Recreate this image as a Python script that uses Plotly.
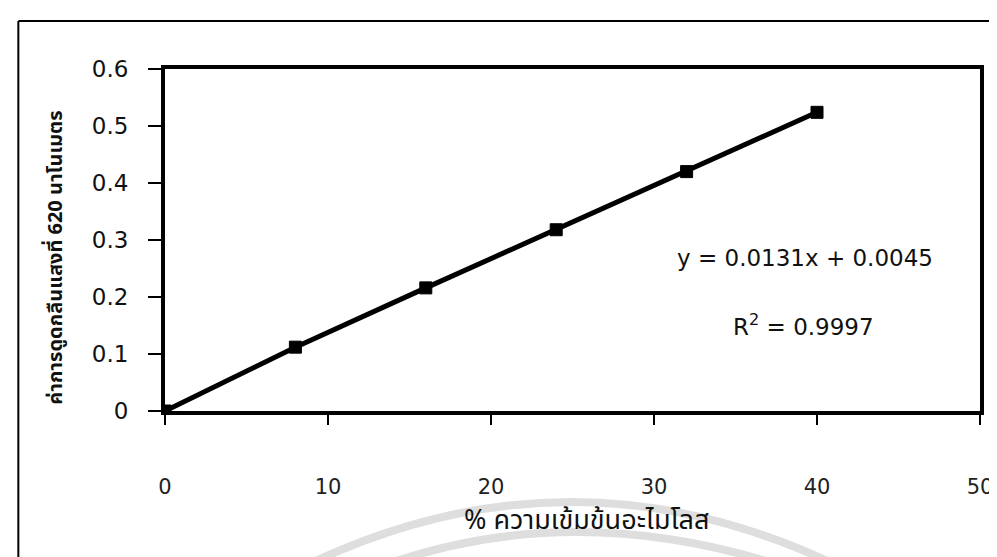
import plotly.graph_objects as go

# ---- data ----
conc = [0, 8, 16, 24, 32, 40]
absorbance = [0.0, 0.112, 0.216, 0.318, 0.420, 0.524]
x_ticks = [0, 10, 20, 30, 40, 50]
y_ticks = [0, 0.1, 0.2, 0.3, 0.4, 0.5, 0.6]
y_tick_text = ["0", "0.1", "0.2", "0.3", "0.4", "0.5", "0.6"]
x_title = "% ความเข้มข้นอะไมโลส"
y_title = "ค่าการดูดกลืนแสงที่ 620 นาโนเมตร"
eq_text = "y = 0.0131x + 0.0045"
r2_text = "R<sup>2</sup> = 0.9997"

W, H = 997, 557
L, R, T, B = 157, 12, 61, 154
PW, PH = W - L - R, H - T - B


def px(xp):
    return (xp - L) / PW


def py(yp):
    return (H - B - yp) / PH


NUM_FONT = "DejaVu Sans"
THAI_FONT = "Noto Sans Thai, Noto Sans, DejaVu Sans, sans-serif"

fig = go.Figure()
fig.add_trace(go.Scatter(
    x=conc, y=absorbance, mode="lines+markers",
    line=dict(color="black", width=5),
    marker=dict(symbol="square", size=12, color="black",
                line=dict(color="black", width=1)),
    showlegend=False, hoverinfo="x+y",
))

fig.update_layout(
    width=W, height=H,
    margin=dict(l=L, r=R, t=T, b=B, pad=0),
    paper_bgcolor="white", plot_bgcolor="white",
    showlegend=False,
    xaxis=dict(
        range=[0, 50], tickvals=x_ticks, ticktext=[str(v) for v in x_ticks],
        showgrid=False, zeroline=False,
        showline=True, linecolor="black", linewidth=4, mirror=True,
        ticks="outside", ticklen=10, tickwidth=1.5, tickcolor="black",
        tickfont=dict(family=NUM_FONT, size=21, color="#222"),
        ticklabelstandoff=44,
    ),
    yaxis=dict(
        range=[0, 0.6], tickvals=y_ticks, ticktext=y_tick_text,
        showgrid=False, zeroline=False,
        showline=True, linecolor="black", linewidth=4, mirror=True,
        ticks="outside", ticklen=13, tickwidth=1.5, tickcolor="black",
        tickfont=dict(family=NUM_FONT, size=23, color="#111"),
        ticklabelstandoff=15,
    ),
)

annotations = [
    dict(text=eq_text, x=px(807), y=py(250), xref="paper", yref="paper",
         showarrow=False, xanchor="center", yanchor="middle",
         font=dict(family=NUM_FONT, size=23, color="#111")),
    dict(text=r2_text, x=px(806), y=py(317), xref="paper", yref="paper",
         showarrow=False, xanchor="center", yanchor="middle",
         font=dict(family=NUM_FONT, size=23, color="#111")),
    dict(text=x_title, x=px(585), y=py(512), xref="paper", yref="paper",
         showarrow=False, xanchor="center", yanchor="middle",
         font=dict(family=THAI_FONT, size=27, color="#111")),
    dict(text="<b>" + y_title + "</b>", x=px(46), y=py(250), xref="paper", yref="paper",
         showarrow=False, xanchor="center", yanchor="middle", textangle=-90,
         font=dict(family=THAI_FONT, size=20, color="#111")),
]
fig.update_layout(annotations=annotations)


def arc(x0, y0, xc, yc, x1, y1):
    return f"M {px(x0)},{py(y0)} Q {px(xc)},{py(yc)} {px(x1)},{py(y1)}"


shapes = [
    # outer page frame (left and top)
    dict(type="line", xref="paper", yref="paper", x0=px(8), y0=py(13), x1=px(8), y1=py(557),
         line=dict(color="black", width=2), layer="above"),
    dict(type="line", xref="paper", yref="paper", x0=px(8), y0=py(13), x1=px(997), y1=py(13),
         line=dict(color="black", width=2), layer="above"),
    # faint watermark arcs
    dict(type="path", xref="paper", yref="paper", path=arc(295, 560, 569, 428, 845, 560),
         line=dict(color="#dedede", width=8), layer="below"),
    dict(type="path", xref="paper", yref="paper", path=arc(372, 560, 570, 488, 790, 560),
         line=dict(color="#dedede", width=8), layer="below"),
]
fig.update_layout(shapes=shapes)

fig.write_html("out.html")
